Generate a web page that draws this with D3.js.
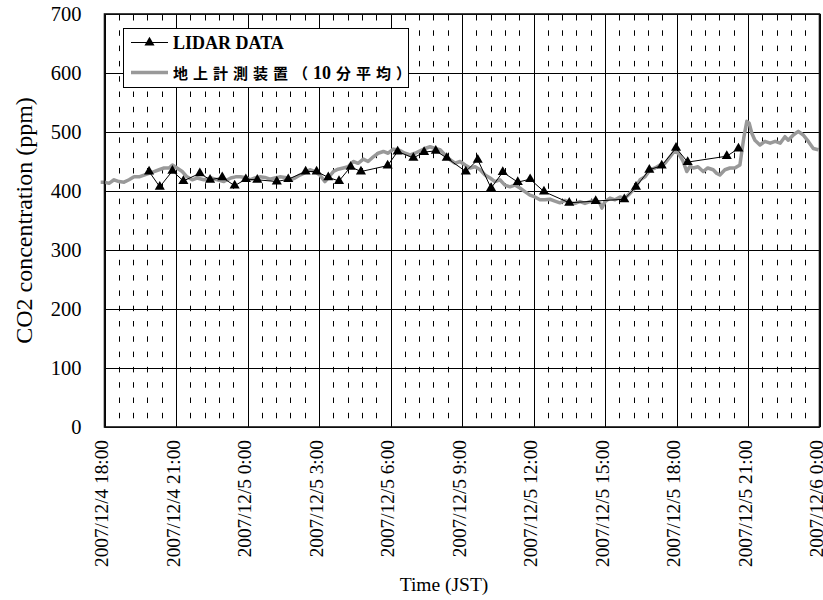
<!DOCTYPE html>
<html>
<head>
<meta charset="utf-8">
<script src="https://cdn.jsdelivr.net/npm/d3@7"></script>
<style>
  html, body { margin: 0; padding: 0; background: #fff; }
  svg { display: block; }
</style>
</head>
<body>
<svg id="chart" width="823" height="600"></svg>
<script>
// Hours elapsed since 2007/12/4 18:00 (JST) for each x-axis tick
const xTickHours = [0, 3, 6, 9, 12, 15, 18, 21, 24, 27, 30];
const xTickLabels = [
  "2007/12/4 18:00", "2007/12/4 21:00", "2007/12/5 0:00", "2007/12/5 3:00",
  "2007/12/5 6:00", "2007/12/5 9:00", "2007/12/5 12:00", "2007/12/5 15:00",
  "2007/12/5 18:00", "2007/12/5 21:00", "2007/12/6 0:00"
];
const yTicks = [0, 100, 200, 300, 400, 500, 600, 700];

const seriesNames = ["LIDAR DATA", "地上計測装置（10分平均）"];

// LIDAR retrievals (hours since start, ppm)
const lidarHours = [1.87, 2.32, 2.85, 3.31, 4.00, 4.43, 4.94, 5.46, 5.93, 6.41,
  7.23, 7.71, 8.44, 8.90, 9.39, 9.84, 10.33, 10.76, 11.88, 12.30,
  12.96, 13.41, 13.90, 14.36, 15.16, 15.66, 16.22, 16.71, 17.34, 17.86,
  18.44, 19.50, 20.61, 21.81, 22.30, 22.86, 23.38, 23.98, 24.47, 26.11, 26.60];
const lidarValues = [433, 407, 434, 417, 430, 419, 423, 409, 420, 419,
  416, 420, 433, 433, 423, 417, 441, 433, 443, 467,
  456, 466, 468, 456, 433, 453, 405, 432, 415, 420,
  399, 380, 383, 386, 407, 436, 443, 473, 449, 459, 472];

// Ground station, 10-minute averages (hours since start, ppm)
const groundHours = [-0.16, 0.00, 0.19, 0.40, 0.61, 0.82, 1.03, 1.24, 1.45, 1.66,
  1.87, 2.08, 2.29, 2.50, 2.71, 2.85, 3.04, 3.26, 3.46, 3.68,
  3.88, 4.17, 4.47, 4.73, 5.01, 5.30, 5.50, 5.71, 5.98, 6.10,
  6.31, 6.52, 6.73, 6.94, 7.15, 7.36, 7.57, 7.78, 7.99, 8.20,
  8.41, 8.62, 8.83, 9.04, 9.25, 9.38, 9.60, 9.80, 10.02, 10.22,
  10.44, 10.64, 10.86, 11.06, 11.28, 11.48, 11.70, 11.90, 12.12, 12.30,
  12.47, 12.61, 12.82, 13.03, 13.24, 13.45, 13.66, 13.87, 14.08, 14.29,
  14.50, 14.71, 14.92, 15.13, 15.34, 15.55, 15.76, 15.97, 16.18, 16.38,
  16.59, 16.80, 17.01, 17.22, 17.43, 17.64, 17.85, 18.06, 18.27, 18.48,
  18.69, 18.90, 19.11, 19.32, 19.53, 19.74, 19.95, 20.16, 20.37, 20.58,
  20.79, 20.87, 21.00, 21.21, 21.42, 21.63, 21.84, 22.05, 22.26, 22.47,
  22.68, 22.89, 23.10, 23.31, 23.52, 23.73, 23.90, 24.08, 24.27, 24.43,
  24.57, 24.71, 24.90, 25.12, 25.31, 25.54, 25.68, 25.82, 26.03, 26.24,
  26.45, 26.66, 26.74, 26.83, 26.95, 27.05, 27.16, 27.29, 27.50, 27.71,
  27.93, 28.14, 28.35, 28.55, 28.69, 28.90, 29.11, 29.32, 29.53, 29.74, 29.95];
const groundValues = [415, 415, 413, 419, 416, 415, 419, 424, 424, 427,
  430, 433, 436, 439, 439, 444, 439, 433, 424, 419,
  422, 419, 422, 419, 416, 422, 424, 424, 422, 419,
  422, 424, 423, 420, 422, 424, 423, 419, 422, 427,
  431, 436, 433, 427, 416, 422, 433, 437, 439, 441,
  450, 447, 454, 450, 458, 464, 467, 464, 471, 470,
  467, 464, 461, 464, 468, 472, 475, 472, 470, 461,
  453, 447, 450, 444, 439, 441, 436, 427, 422, 416,
  419, 410, 407, 410, 405, 399, 393, 390, 385, 385,
  386, 383, 380, 384, 380, 379, 382, 379, 382, 385,
  379, 371, 382, 388, 385, 390, 388, 396, 405, 419,
  424, 436, 439, 444, 447, 458, 467, 464, 451, 433,
  442, 439, 441, 433, 439, 436, 430, 427, 436, 439,
  439, 444, 467, 492, 518, 515, 498, 486, 478, 484,
  481, 484, 481, 492, 486, 495, 501, 495, 484, 472, 470];

const svg = d3.select("#chart");
const plot = { left: 104.5, right: 819.5, top: 14, bottom: 427 };

const x = d3.scaleLinear().domain([0, 30]).range([plot.left, plot.right]);
const y = d3.scaleLinear().domain([0, 700]).range([plot.bottom, plot.top]);

const serif = "'Liberation Serif', 'Times New Roman', serif";

// Plot background
svg.append("rect")
  .attr("x", plot.left).attr("y", plot.top)
  .attr("width", plot.right - plot.left).attr("height", plot.bottom - plot.top)
  .attr("fill", "#fff");

// Minor vertical gridlines (dashed, every 36 minutes)
const minorHours = d3.range(0, 30.001, 0.6).filter(h => Math.abs(h / 3 - Math.round(h / 3)) > 1e-6);
svg.append("g").selectAll("line").data(minorHours).join("line")
  .attr("x1", d => Math.round(x(d)) + 0.5).attr("x2", d => Math.round(x(d)) + 0.5)
  .attr("y1", plot.top).attr("y2", plot.bottom)
  .attr("stroke", "#000").attr("stroke-width", 1)
  .attr("stroke-dasharray", "5.5,9.8")
  .attr("stroke-dashoffset", 14.3);

// Major gridlines
svg.append("g").selectAll("line").data(yTicks).join("line")
  .attr("x1", plot.left).attr("x2", plot.right)
  .attr("y1", d => Math.round(y(d)) + 0.5).attr("y2", d => Math.round(y(d)) + 0.5)
  .attr("stroke", "#000").attr("stroke-width", 1);
svg.append("g").selectAll("line").data(xTickHours).join("line")
  .attr("x1", d => Math.round(x(d)) + 0.5).attr("x2", d => Math.round(x(d)) + 0.5)
  .attr("y1", plot.top).attr("y2", plot.bottom)
  .attr("stroke", "#000").attr("stroke-width", 1);

// Ground station series
const groundData = groundHours.map((h, i) => [h, groundValues[i]]);
svg.append("path").datum(groundData)
  .attr("fill", "none").attr("stroke", "#999")
  .attr("stroke-width", 3.5).attr("stroke-linejoin", "round")
  .attr("d", d3.line().x(d => x(d[0])).y(d => y(d[1])));

// LIDAR series
const lidarData = lidarHours.map((h, i) => [h, lidarValues[i]]);
svg.append("path").datum(lidarData)
  .attr("fill", "none").attr("stroke", "#000").attr("stroke-width", 1)
  .attr("d", d3.line().x(d => x(d[0])).y(d => y(d[1])));
const tri = d3.symbol().type(d3.symbolTriangle).size(44);
svg.append("g").selectAll("path").data(lidarData).join("path")
  .attr("transform", d => `translate(${x(d[0])},${y(d[1])})`)
  .attr("d", tri).attr("fill", "#000");

// Plot frame
svg.append("rect")
  .attr("x", plot.left).attr("y", plot.top)
  .attr("width", plot.right - plot.left).attr("height", plot.bottom - plot.top)
  .attr("fill", "none").attr("stroke", "#111").attr("stroke-width", 1.6);

// Y axis
const yAxis = d3.axisLeft(y).tickValues(yTicks).tickSize(0).tickPadding(23);
const gy = svg.append("g").attr("transform", `translate(${plot.left},0)`).call(yAxis);
gy.select(".domain").remove();
gy.selectAll("text").attr("font-family", serif).attr("font-size", 20.5).attr("fill", "#000");

// X axis with rotated date labels
const xAxis = d3.axisBottom(x).tickValues(xTickHours)
  .tickFormat((d, i) => xTickLabels[i]).tickSize(0);
const gx = svg.append("g").attr("transform", `translate(0,${plot.bottom})`).call(xAxis);
gx.select(".domain").remove();
gx.selectAll("text")
  .attr("font-family", serif).attr("font-size", 19.3).attr("fill", "#000")
  .attr("text-anchor", "end")
  .attr("transform", "rotate(-90)")
  .attr("x", -13).attr("y", -3.5).attr("dy", "0.35em");

// Axis titles
svg.append("text")
  .attr("transform", `translate(32,${(plot.top + plot.bottom) / 2}) rotate(-90)`)
  .attr("text-anchor", "middle")
  .attr("font-family", serif).attr("font-size", 24).attr("fill", "#000")
  .text("CO2 concentration (ppm)");
svg.append("text")
  .attr("x", 444).attr("y", 591)
  .attr("text-anchor", "middle")
  .attr("font-family", serif).attr("font-size", 19.5).attr("fill", "#000")
  .text("Time (JST)");

// Legend
const legend = svg.append("g");
legend.append("rect")
  .attr("x", 123.5).attr("y", 28.5).attr("width", 285).attr("height", 59)
  .attr("fill", "#fff").attr("stroke", "#000").attr("stroke-width", 1);
legend.append("line")
  .attr("x1", 131).attr("x2", 168).attr("y1", 42.5).attr("y2", 42.5)
  .attr("stroke", "#000").attr("stroke-width", 1);
legend.append("path")
  .attr("transform", "translate(149.5,42.5)")
  .attr("d", tri).attr("fill", "#000");
legend.append("line")
  .attr("x1", 131).attr("x2", 168).attr("y1", 72.5).attr("y2", 72.5)
  .attr("stroke", "#999").attr("stroke-width", 3.5);
legend.append("text")
  .attr("x", 173).attr("y", 48.5)
  .attr("font-family", serif).attr("font-weight", "bold").attr("font-size", 18)
  .attr("fill", "#000")
  .text(seriesNames[0]);
const t2 = legend.append("text")
  .attr("x", 173).attr("y", 79)
  .attr("font-weight", "bold").attr("fill", "#000");
t2.append("tspan")
  .attr("font-family", "'Noto Sans CJK JP', sans-serif").attr("font-size", 15)
  .attr("letter-spacing", 5).text("地上計測装置（");
t2.append("tspan")
  .attr("font-family", serif).attr("font-size", 18)
  .text("10");
t2.append("tspan")
  .attr("font-family", "'Noto Sans CJK JP', sans-serif").attr("font-size", 15)
  .attr("dx", 5).attr("letter-spacing", 5).text("分平均）");
</script>
</body>
</html>
